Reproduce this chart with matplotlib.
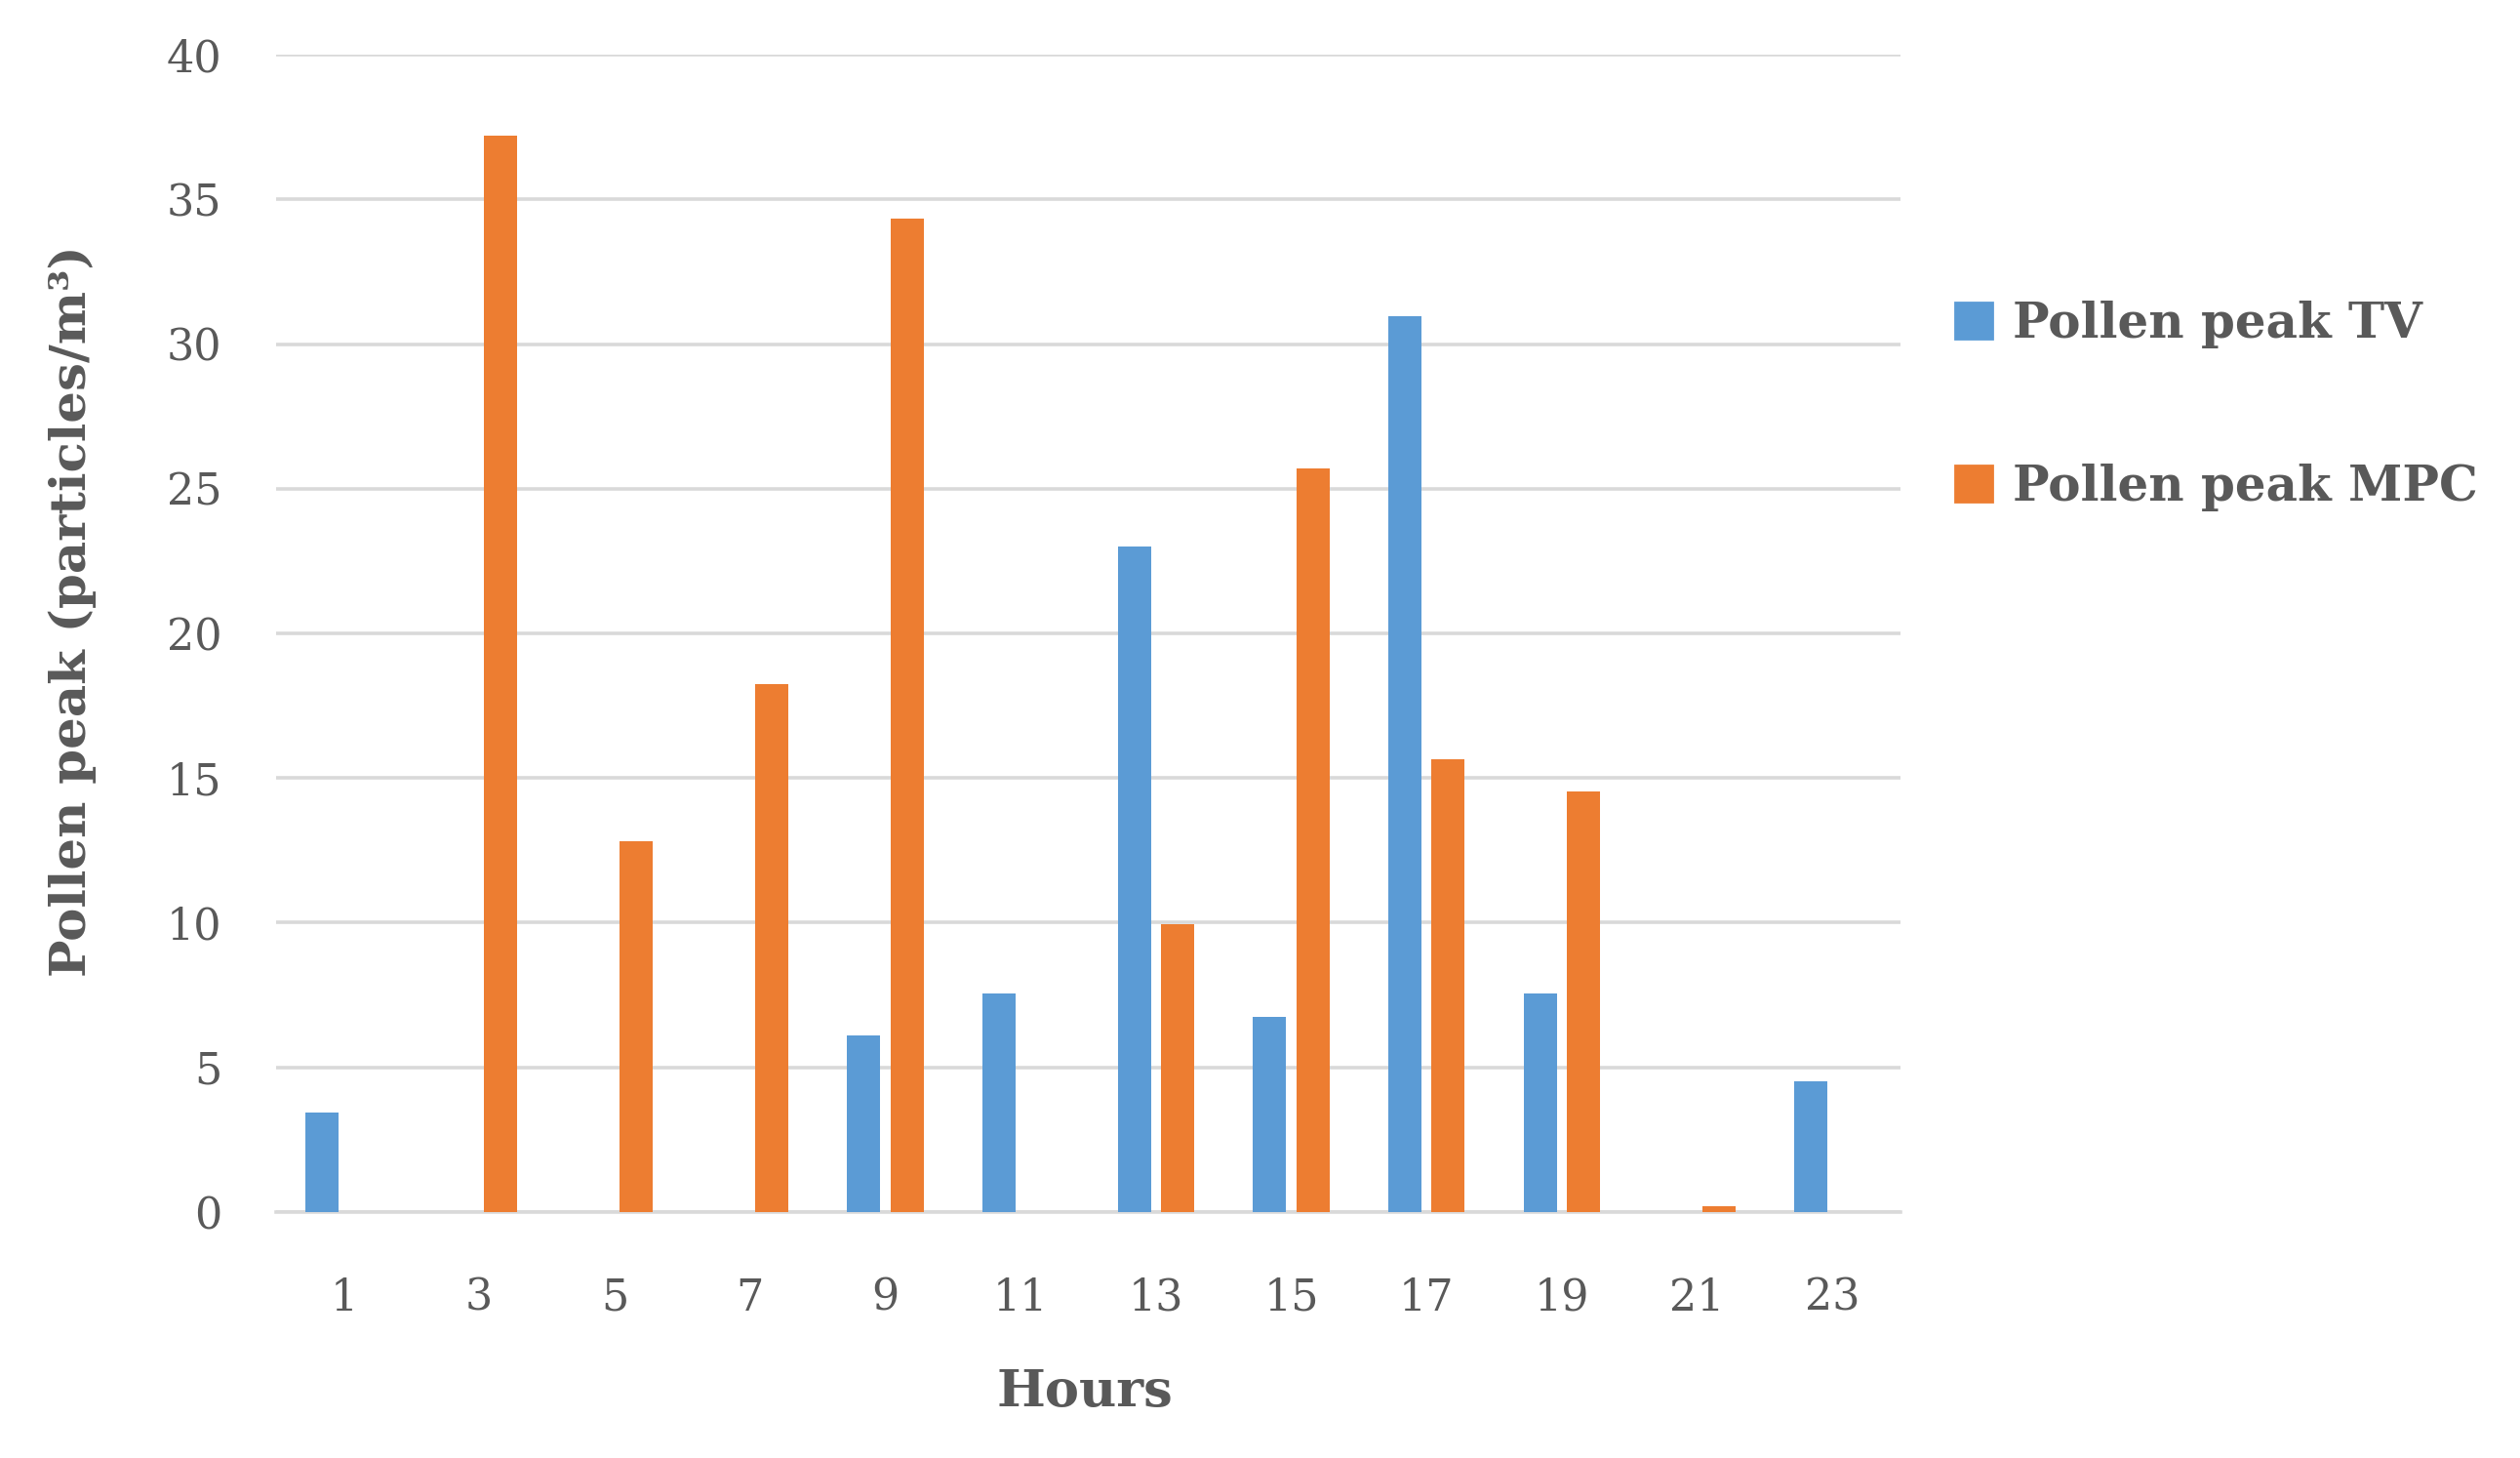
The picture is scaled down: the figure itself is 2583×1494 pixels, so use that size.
import numpy as np
import matplotlib
matplotlib.use("Agg")
import matplotlib.pyplot as plt
from matplotlib.patches import Patch

# data
hours = ["1", "3", "5", "7", "9", "11", "13", "15", "17", "19", "21", "23"]
pollen_tv = [3.43, 0, 0, 0, 6.12, 7.56, 23.0, 6.73, 30.95, 7.54, 0, 4.51]
pollen_mpc = [0, 37.2, 12.8, 18.25, 34.34, 0, 9.95, 25.7, 15.66, 14.54, 0.2, 0]

blue = "#5B9BD5"
orange = "#ED7D31"
text_col = "#595959"
grid_col = "#D9D9D9"

plt.rcParams["font.family"] = ["DejaVu Serif"]

fig = plt.figure(figsize=(12.915, 7.47), dpi=200)
ax = fig.add_axes([0.1096, 0.1687, 0.6445, 0.7938])

x = np.arange(len(hours))
w = 0.245
off = 0.16
ax.bar(x - off, pollen_tv, width=w, color=blue, zorder=3)
ax.bar(x + off, pollen_mpc, width=w, color=orange, zorder=3)

ax.set_xlim(-0.5, len(hours) - 0.5)
ax.set_ylim(0, 40)
ax.set_yticks(range(0, 41, 5))
ax.set_xticks(x)
ax.set_xticklabels(hours)
ax.yaxis.grid(True, color=grid_col, linewidth=1.3, zorder=0)
ax.set_axisbelow(True)
for s in ["top", "right", "left"]:
    ax.spines[s].set_visible(False)
ax.spines["bottom"].set_color(grid_col)
ax.spines["bottom"].set_linewidth(1.3)
ax.tick_params(axis="both", length=0, labelsize=16, colors=text_col)
ax.tick_params(axis="x", pad=24)
ax.tick_params(axis="y", pad=20)

fig.text(0.0287, 0.581, "Pollen peak (particles/m³)", rotation=90, ha="center",
         va="center", fontsize=18.5, fontweight="bold", color=text_col)
fig.text(0.4305, 0.0455, "Hours", ha="center", va="center", fontsize=19,
         fontweight="bold", color=text_col)

handles = [Patch(color=blue, label="Pollen peak TV"),
           Patch(color=orange, label="Pollen peak MPC")]
leg = fig.legend(handles=handles, loc="upper left", bbox_to_anchor=(0.7758, 0.794),
                 frameon=False, fontsize=18, handlelength=0.76, handleheight=0.76,
                 handletextpad=0.42, labelspacing=2.37, borderpad=0, borderaxespad=0)
for t in leg.get_texts():
    t.set_color(text_col)
    t.set_fontweight("bold")

fig.savefig("out.png", dpi=200)
